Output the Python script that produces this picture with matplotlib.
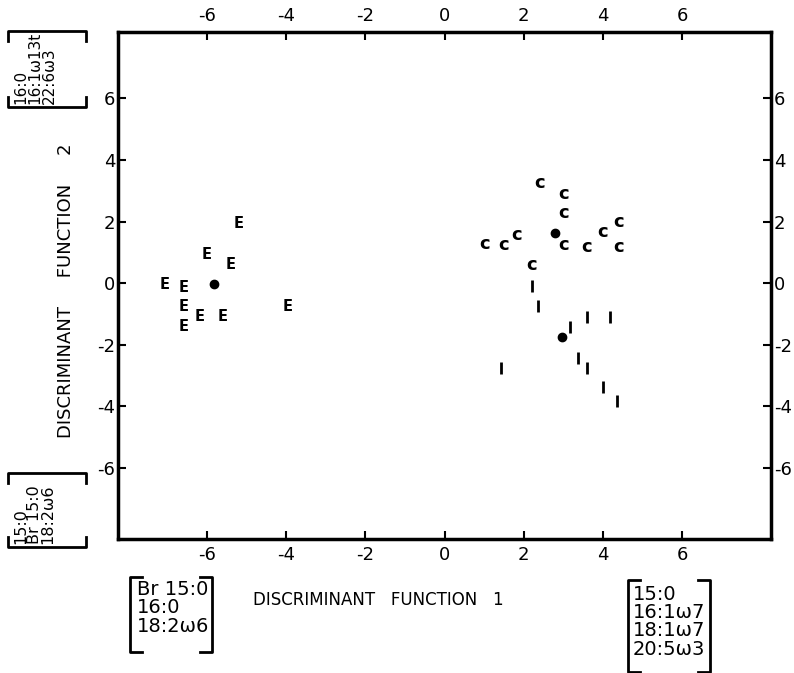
import matplotlib
matplotlib.use("Agg")
import matplotlib.pyplot as plt

plt.rcParams['font.family'] = ['DejaVu Sans']
plt.rcParams['axes.unicode_minus'] = False

# group E
e_x = [-5.2, -6.0, -5.4, -7.07, -6.6, -6.6, -6.19, -5.6, -6.6, -3.97]
e_y = [1.95, 0.94, 0.62, -0.03, -0.13, -0.75, -1.07, -1.07, -1.4, -0.77]
# group C
c_x = [2.4, 3.0, 3.0, 4.4, 4.0, 1.01, 1.49, 1.82, 3.0, 3.59, 4.4, 2.2]
c_y = [3.25, 2.9, 2.27, 1.98, 1.66, 1.27, 1.23, 1.56, 1.23, 1.17, 1.17, 0.58]
# group I
i_x = [2.2, 2.37, 3.59, 4.19, 3.16, 3.38, 3.59, 1.44, 4.0, 4.37]
i_y = [-0.1, -0.75, -1.1, -1.1, -1.43, -2.44, -2.76, -2.76, -3.38, -3.83]
# group centroids
cent_x = [-5.83, 2.78, 2.98]
cent_y = [-0.03, 1.63, -1.75]

ticks = [-6, -4, -2, 0, 2, 4, 6]

fig = plt.figure(figsize=(7.94, 6.73), dpi=100)
ax = fig.add_axes([118 / 794, 1 - 539 / 673, 653 / 794, 507 / 673])
ax.set_xlim(-8.25, 8.25)
ax.set_ylim(-8.3, 8.15)

for x, y in zip(e_x, e_y):
    ax.text(x, y, 'E', ha='center', va='center', fontsize=10.5, fontweight='bold')
for x, y in zip(c_x, c_y):
    ax.text(x, y, 'c', ha='center', va='center', fontsize=13, fontweight='bold')
ax.plot(i_x, i_y, ls='none', marker='|', ms=9, mew=2, color='black')
ax.plot(cent_x, cent_y, ls='none', marker='o', ms=6, color='black')

for s in ax.spines.values():
    s.set_linewidth(2.5)
ax.set_xticks(ticks)
ax.set_yticks(ticks)
ax.tick_params(direction='in', length=6, width=1.5, labelsize=13,
               top=True, right=True, labeltop=True, labelright=True)
ax.tick_params(axis='x', pad=5)
ax.tick_params(axis='y', pad=2)

ax.set_xlabel('DISCRIMINANT   FUNCTION   1', fontsize=12)
ax.xaxis.set_label_coords(0.398, -0.103)
ax.set_ylabel('DISCRIMINANT     FUNCTION     2', fontsize=13)
ax.yaxis.set_label_coords(-0.066, 0.49)

# overlay in pixel coordinates for bracketed notes
ov = fig.add_axes([0, 0, 1, 1])
ov.set_xlim(0, 794)
ov.set_ylim(673, 0)
ov.axis('off')
ov.patch.set_alpha(0)


def bracket_h(x0, x1, y0, y1):
    # [ ... ] brackets left and right
    ov.plot([x0 + 12, x0, x0, x0 + 12], [y0, y0, y1, y1], color='black', lw=2)
    ov.plot([x1 - 12, x1, x1, x1 - 12], [y0, y0, y1, y1], color='black', lw=2)


def bracket_v(x0, x1, y0, y1):
    # rotated brackets top and bottom
    ov.plot([x0, x0, x1, x1], [y0 + 10, y0, y0, y0 + 10], color='black', lw=2)
    ov.plot([x0, x0, x1, x1], [y1 - 10, y1, y1, y1 - 10], color='black', lw=2)


bracket_v(8, 86, 31, 107)
ov.text(13, 104, '16:0\n16:1ω13t\n22:6ω3', rotation=90, ha='left', va='bottom',
        fontsize=11, linespacing=0.95)

bracket_v(8, 86, 473, 547)
ov.text(13, 544, '15:0\nBr 15:0\n18:2ω6', rotation=90, ha='left', va='bottom',
        fontsize=11.5, linespacing=0.9)

bracket_h(130, 212, 577, 652)
ov.text(137, 580, 'Br 15:0\n16:0\n18:2ω6', ha='left', va='top',
        fontsize=14, linespacing=0.95)

bracket_h(628, 710, 580, 672)
ov.text(633, 585, '15:0\n16:1ω7\n18:1ω7\n20:5ω3', ha='left', va='top',
        fontsize=14, linespacing=0.95)

fig.savefig('out.png', dpi=100)
